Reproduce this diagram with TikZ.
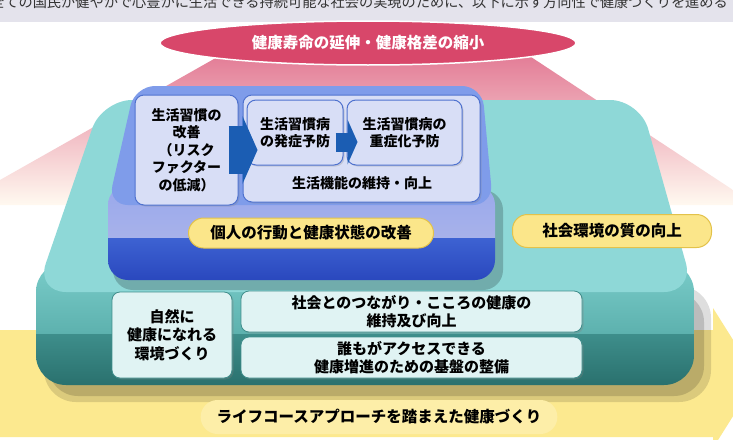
\documentclass[tikz,border=0pt]{standalone}
\usepackage{fontspec}
\newfontfamily\jp{Noto Sans CJK JP}
\usetikzlibrary{arrows.meta,shapes.geometric,shadows}
\definecolor{hdrgray}{HTML}{E4E3EC}
\definecolor{hdrtext}{HTML}{333333}
\definecolor{goalred}{HTML}{D8476A}
\definecolor{pinktop}{HTML}{E37C96}
\definecolor{pinkmid}{HTML}{F0B4C1}
\definecolor{cream}{HTML}{FFF9F0}
\definecolor{tealtop}{HTML}{8ED8D7}
\definecolor{tealup}{HTML}{7ACDCA}
\definecolor{tealup2}{HTML}{5DB1AE}
\definecolor{tealdk}{HTML}{3E8E8B}
\definecolor{tealdk2}{HTML}{2A716E}
\definecolor{bluetop}{HTML}{7F9CEA}
\definecolor{blueup}{HTML}{98A8EC}
\definecolor{blueup2}{HTML}{A8B2EA}
\definecolor{bluedk}{HTML}{3D62D2}
\definecolor{bluedk2}{HTML}{2A48BE}
\definecolor{boxlav}{HTML}{D8DEF6}
\definecolor{boxblue}{HTML}{4F72CF}
\definecolor{arrblue}{HTML}{1B5DB3}
\definecolor{pillyel}{HTML}{FBE68A}
\definecolor{pillline}{HTML}{E3C24A}
\definecolor{envfill}{HTML}{E0F3F3}
\definecolor{envline}{HTML}{3F8D8B}
\definecolor{bandyel}{HTML}{FCE98F}
\definecolor{glowyel}{HTML}{FDEEA8}
\begin{document}
\begin{tikzpicture}[x=1pt,y=-1pt,
        every node/.style={align=center,inner sep=0pt,font=\jp\bfseries\fontsize{14}{17.5}\selectfont},
        lifebox/.style={draw=boxblue,fill=boxlav,line width=1pt,rounded corners=9pt,
            drop shadow={opacity=.25,shadow xshift=1.5pt,shadow yshift=-1.5pt}},
        envbox/.style={draw=envline,fill=envfill,line width=.8pt,rounded corners=8pt,
            font=\jp\bfseries\fontsize{15}{18.5}\selectfont,
            drop shadow={opacity=.3,shadow xshift=1.5pt,shadow yshift=-1.5pt}},
        pill/.style={draw=pillline,fill=pillyel,line width=1pt,rounded corners=15pt,
            font=\jp\bfseries\fontsize{15.5}{18}\selectfont},
        blockarrow/.style={draw=arrblue}
    ]
    \useasboundingbox (0,0) rectangle (733,439);
    \fill[white] (0,0) rectangle (733,439);
    \fill[hdrgray] (0,0) rectangle (733,22);
    \node (HDR) [anchor=base,text=hdrtext,font=\jp\mdseries\fontsize{14.2}{14}\selectfont] at (359,7.5)
        {全ての国民が健やかで心豊かに生活できる持続可能な社会の実現のために、以下に示す方向性で健康づくりを進める};

    \shade[top color=pinktop,middle color=pinkmid,bottom color=cream]
        (221,55) -- (528,55) -- (733,190) -- (733,205) -- (0,205) -- (0,180) -- cycle;
    \fill[bandyel] (0,330) -- (713,330) -- (713,308) -- (757,378) -- (713,448) -- (713,437) -- (0,437) -- cycle;

    \fill[black,opacity=.13,rounded corners=32pt] (44,286) rectangle (711,402);
    \fill[black,opacity=.15,rounded corners=30pt] (48,292) rectangle (704,396);
    \begin{scope}
        \clip[rounded corners=30pt] (36,262) rectangle (694,385);
        \shade[top color=tealup,bottom color=tealup2] (36,262) rectangle (694,334);
        \shade[top color=tealdk,bottom color=tealdk2] (36,334) rectangle (694,385);
    \end{scope}
    \fill[tealtop,rounded corners=30pt] (102,100) -- (640,100) -- (694,292) -- (36,292) -- cycle;

    \fill[black,opacity=.2,rounded corners=20pt] (113,190) rectangle (503,290);
    \begin{scope}
        \clip[rounded corners=20pt] (108,185) rectangle (495,280);
        \shade[top color=blueup,bottom color=blueup2] (108,185) rectangle (495,238);
        \shade[top color=bluedk,bottom color=bluedk2] (108,238) rectangle (495,280);
    \end{scope}
    \fill[bluetop,rounded corners=20pt] (135,86) -- (482,86) -- (493,205) -- (108,205) -- cycle;

    \node (GOAL) [ellipse,fill=goalred,draw=white,line width=1.5pt,minimum width=416pt,minimum height=44pt,
        text=white,font=\jp\bfseries\fontsize{15.5}{18}\selectfont] at (368,43) {健康寿命の延伸・健康格差の縮小};

    \node (RISK) [lifebox,minimum width=103pt,minimum height=110pt] at (186.5,150)
        {生活習慣の\\改善\\（リスク\\ファクター\\の低減）};
    \node (FUNC) [lifebox,minimum width=237pt,minimum height=107pt] at (361.5,148.5) {};
    \node (ONSET) [lifebox,minimum width=96pt,minimum height=65pt] at (295,132.5) {生活習慣病\\の発症予防};
    \node (SEVERE) [lifebox,minimum width=115pt,minimum height=65pt] at (404.5,132.5) {生活習慣病の\\重症化予防};
    \node (FUNCTXT) at (362,183) {生活機能の維持・向上};

    \draw[blockarrow,line width=48pt,-{Triangle[length=15pt,width=68pt,line width=0pt]}]
        ([xshift=-10pt]RISK.east) -- ([xshift=11pt]RISK.east -| ONSET.west);
    \draw[blockarrow,line width=19pt,-{Triangle[length=10pt,width=45pt,line width=0pt]}]
        ([xshift=-8pt,yshift=-9.5pt]ONSET.east) -- ([xshift=11pt,yshift=-9.5pt]SEVERE.west);

    \node (IND) [pill,minimum width=245pt,minimum height=30pt] at (311,233) {個人の行動と健康状態の改善};
    \node (ENV) [pill,minimum width=199pt,minimum height=33pt] at (612,231) {社会環境の質の向上};

    \node (NAT) [envbox,minimum width=120pt,minimum height=86pt] at (172,335) {自然に\\健康になれる\\環境づくり};
    \node (SOC) [envbox,minimum width=341pt,minimum height=41pt] at (411.5,311.5) {社会とのつながり・こころの健康の\\維持及び向上};
    \node (ACC) [envbox,minimum width=341pt,minimum height=41pt] at (411.5,357.5) {誰もがアクセスできる\\健康増進のための基盤の整備};

    \node (LIFE) [fill=glowyel,rounded corners=17pt,minimum height=34pt,inner xsep=16pt,
        font=\jp\bfseries\fontsize{15.5}{18}\selectfont] at (379,417) {ライフコースアプローチを踏まえた健康づくり};
\end{tikzpicture}
\end{document}
